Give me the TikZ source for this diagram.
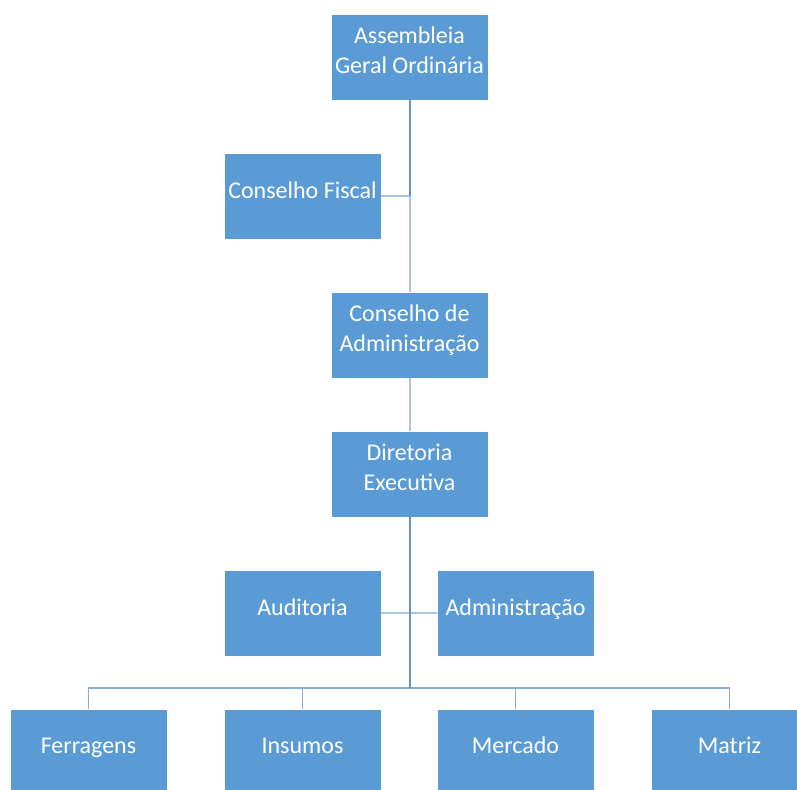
\documentclass[tikz,border=0pt]{standalone}
\usepackage{fontspec}
\setmainfont{Carlito}
\definecolor{boxblue}{HTML}{5B9BD5}
\definecolor{linedark}{HTML}{6690C2}
\definecolor{linelight}{HTML}{A9C6E8}
\definecolor{linemid}{HTML}{86AEDC}
\begin{document}
\begin{tikzpicture}[x=1pt,y=1pt,
  unit/.style={rectangle,fill=boxblue,draw=white,line width=0.8pt,minimum width=157pt,minimum height=86pt,
    inner sep=2pt,text depth=13pt,align=center,text=white,font=\fontsize{24}{30}\selectfont},
  trunk/.style={draw=linedark,line width=2pt},
  branch/.style={draw=linelight,line width=2pt},
  busline/.style={draw=linemid,line width=1.6pt}]
  \useasboundingbox (0,0) rectangle (797,789);
  \clip (0,0) rectangle (797,789);
  % boxes
  \node[unit] (ago) at (409.5,732) {Assembleia\\Geral Ordinária};
  \node[unit] (cf)  at (302.5,592.5) {Conselho Fiscal};
  \node[unit] (ca)  at (409.5,454) {Conselho de\\Administração};
  \node[unit] (de)  at (409.5,315) {Diretoria\\Executiva};
  \node[unit] (aud) at (302.5,175.5) {Auditoria};
  \node[unit] (adm) at (515.5,175.5) {Administração};
  \node[unit] (fer) at (88.5,37) {Ferragens};
  \node[unit] (ins) at (302.5,37) {Insumos};
  \node[unit] (mer) at (515.5,37) {Mercado};
  \node[unit] (mat) at (729.5,37) {Matriz};
  % connectors
  \coordinate (jf) at (ago.south |- cf.east);
  \coordinate (bus) at (409.5,101);
  \draw[branch] (cf) -- (jf) -- (ca);
  \draw[branch] (ca) -- (de);
  \draw[branch] (aud) -- (adm);
  \draw[busline] (fer.north) |- (bus) -| (mat.north);
  \draw[busline] (ins.north) -- (ins.north |- bus);
  \draw[busline] (mer.north) -- (mer.north |- bus);
  \draw[trunk] (ago) -- (jf);
  \draw[trunk] (de) -- (bus);
\end{tikzpicture}
\end{document}
